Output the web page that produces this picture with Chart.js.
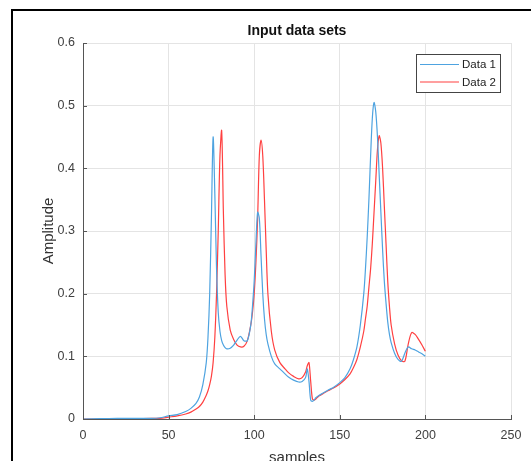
<!DOCTYPE html>
<html><head><meta charset="utf-8">
<script src="https://cdn.jsdelivr.net/npm/chart.js@4/dist/chart.umd.min.js"></script>
<style>
html,body{margin:0;padding:0;background:#fff;overflow:hidden}
#wrap{position:relative;width:531px;height:461px}
#frame{position:absolute;left:11px;top:9px;width:600px;height:600px;border-left:2px solid #000;border-top:2px solid #000;pointer-events:none}
canvas{position:absolute;left:0;top:0}
</style></head><body>
<div id="wrap"><canvas id="c" width="531" height="461"></canvas><div id="frame"></div></div>
<script>
const samples = [0,10,20,30,40,45,50,55,60,63,66,68,70,72,73,74,75,76,77,78,79,80,81,82,83,84,86,88,90,92,94,96,98,99,100,101,102,103,104,105,106,107,108,110,112,115,118,120,123,126,128,130,131,132,133,134,135,136,138,140,143,146,150,153,156,158,160,162,164,165,166,167,168,169,170,171,172,173,174,175,176,177,178,179,180,182,184,186,188,190,192,194,196,198,200];
const data1 = [0,0.0005,0.001,0.001,0.001,0.002,0.005,0.007,0.012,0.017,0.025,0.035,0.055,0.09,0.13,0.2,0.32,0.45,0.36,0.24,0.17,0.14,0.125,0.118,0.114,0.112,0.113,0.118,0.126,0.132,0.125,0.125,0.15,0.18,0.22,0.28,0.33,0.32,0.26,0.2,0.16,0.135,0.12,0.1,0.088,0.08,0.072,0.067,0.062,0.059,0.06,0.066,0.08,0.06,0.03,0.028,0.03,0.034,0.038,0.041,0.046,0.05,0.058,0.066,0.08,0.095,0.115,0.15,0.2,0.24,0.29,0.35,0.42,0.48,0.505,0.49,0.45,0.39,0.33,0.27,0.22,0.185,0.155,0.135,0.122,0.105,0.095,0.092,0.105,0.115,0.112,0.11,0.107,0.104,0.1];
const data2 = [0,0,0.0005,0.0005,0.001,0.001,0.003,0.005,0.008,0.011,0.016,0.02,0.027,0.038,0.045,0.055,0.068,0.09,0.13,0.2,0.3,0.42,0.46,0.33,0.23,0.18,0.142,0.127,0.118,0.115,0.116,0.125,0.15,0.17,0.2,0.25,0.32,0.42,0.445,0.42,0.35,0.27,0.2,0.14,0.11,0.09,0.08,0.074,0.068,0.064,0.066,0.075,0.085,0.09,0.06,0.032,0.03,0.032,0.037,0.04,0.045,0.049,0.056,0.063,0.072,0.082,0.095,0.115,0.14,0.16,0.18,0.21,0.24,0.28,0.33,0.38,0.43,0.452,0.44,0.4,0.34,0.28,0.22,0.18,0.15,0.12,0.102,0.093,0.092,0.12,0.138,0.135,0.127,0.118,0.108];
const seriesNames = ['Data 1','Data 2'];
const seriesColors = ['#4ea3e0','#ff4040'];
const xTicks = [0,50,100,150,200,250];
const yTicks = [0,0.1,0.2,0.3,0.4,0.5,0.6];
const titleText = 'Input data sets';
const xTitle = 'samples';
const yTitle = 'Amplitude';

const FONT = '"Liberation Sans", Arial, sans-serif';
const pts = arr => samples.map((s,i)=>({x:s,y:arr[i]}));

const extras = {
  id:'extras',
  afterDatasetsDraw(chart){
    const {ctx, chartArea:a, scales:{x,y}} = chart;
    const cx=(a.left+a.right)/2;
    ctx.save();
    ctx.strokeStyle='#555';ctx.lineWidth=1;
    ctx.beginPath();
    xTicks.forEach(v=>{const px=Math.round(x.getPixelForValue(v))+0.5;ctx.moveTo(px,a.bottom);ctx.lineTo(px,a.bottom-4);});
    yTicks.forEach(v=>{const py=Math.round(y.getPixelForValue(v))+0.5;ctx.moveTo(a.left,py);ctx.lineTo(a.left+4,py);});
    ctx.stroke();
    // legend
    const bx=416.5, by=54.5, bw=84, bh=38;
    ctx.fillStyle='#fff';ctx.fillRect(bx,by,bw,bh);
    ctx.strokeStyle='#444';ctx.strokeRect(bx,by,bw,bh);
    ctx.font='11.5px '+FONT;ctx.textBaseline='middle';ctx.fillStyle='#222';
    seriesNames.forEach((n,i)=>{
      const ly=64.5+i*17.5;
      ctx.strokeStyle=seriesColors[i];ctx.lineWidth=1.2;
      ctx.beginPath();ctx.moveTo(420,ly);ctx.lineTo(459,ly);ctx.stroke();
      ctx.fillText(n,462,ly+0.5);
    });
    // title
    ctx.fillStyle='#111';
    ctx.font='bold 14px '+FONT;
    ctx.textAlign='center';ctx.textBaseline='middle';
    ctx.fillText(titleText,cx,31);
    // axis titles
    ctx.fillStyle='#333';
    ctx.font='15px '+FONT;
    ctx.textBaseline='alphabetic';
    ctx.fillText(xTitle,cx,462);
    ctx.save();
    ctx.translate(52.5,(a.top+a.bottom)/2);
    ctx.rotate(-Math.PI/2);
    ctx.fillText(yTitle,0,0);
    ctx.restore();
    ctx.restore();
  }
};

new Chart(document.getElementById('c'),{
  type:'line',
  data:{datasets:[
    {label:seriesNames[0],data:pts(data1),borderColor:seriesColors[0],borderWidth:1.2,pointRadius:0,tension:0.3,fill:false},
    {label:seriesNames[1],data:pts(data2),borderColor:seriesColors[1],borderWidth:1.2,pointRadius:0,tension:0.3,fill:false}
  ]},
  options:{
    responsive:false,animation:false,devicePixelRatio:1,
    layout:{padding:{left:0,right:20,top:43,bottom:0}},
    plugins:{legend:{display:false},tooltip:{enabled:false},title:{display:false}},
    scales:{
      x:{type:'linear',min:0,max:250,
        afterBuildTicks(s){s.ticks=xTicks.map(v=>({value:v}));},
        afterFit(s){s.height=42;},
        ticks:{color:'#404040',font:{family:FONT,size:12.5},padding:9,maxRotation:0,autoSkip:false},
        grid:{color:'#e4e4e4',drawTicks:false,lineWidth:1},
        border:{color:'#555',width:1}
      },
      y:{min:0,max:0.6,
        afterBuildTicks(s){s.ticks=yTicks.map(v=>({value:v}));},
        afterFit(s){s.width=83;},
        ticks:{color:'#404040',font:{family:FONT,size:12.5},padding:8,callback:v=>String(v)},
        grid:{color:'#e4e4e4',drawTicks:false,lineWidth:1},
        border:{color:'#555',width:1}
      }
    }
  },
  plugins:[extras]
});
</script>
</body></html>
